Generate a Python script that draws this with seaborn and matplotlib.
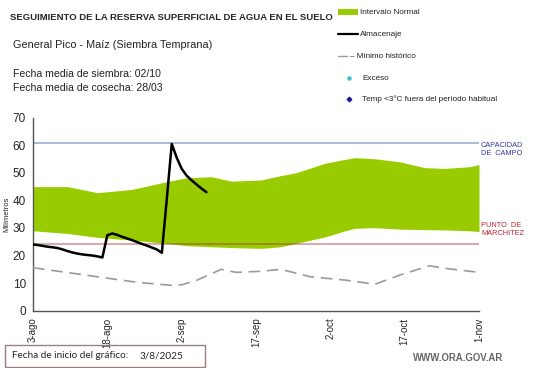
import numpy as np
import matplotlib
matplotlib.use("Agg")
import matplotlib.pyplot as plt
import seaborn as sns
from matplotlib.lines import Line2D
from matplotlib.patches import Rectangle

# Days counted from the chart start (3-ago-2025)
band_days = [0, 7, 13, 20, 27, 31, 36, 40, 46, 50, 53, 59, 63, 65, 69, 74, 79, 83, 88, 90]
band_upper = [45, 45, 42.8, 44, 46.8, 48.2, 48.6, 47, 47.4, 49, 50, 53.5, 54.9, 55.5,
              55.1, 54, 51.9, 51.6, 52.2, 53]
band_lower = [29, 28, 26.6, 25.6, 24.4, 23.6, 23.2, 22.9, 22.6, 23.2, 24.4, 26.8, 29.0,
              29.9, 30.1, 29.6, 29.4, 29.3, 29.0, 28.7]

# Almacenaje, one value per day
storage = [24.0, 23.8, 23.5, 23.2, 23.0, 22.7, 22.2, 21.6, 21.1, 20.7, 20.4, 20.2, 20.0,
           19.7, 19.3, 27.4, 28.0, 27.5, 26.8, 26.2, 25.6, 24.9, 24.2, 23.6, 22.9, 22.2,
           21.0, 40.5, 60.5, 55.5, 51.5, 49.0, 47.3, 45.8, 44.3, 43.0]
storage_days = list(range(len(storage)))

min_days = [0, 13, 21, 28, 30, 33, 38, 41, 46, 50, 56, 63, 69, 74, 80, 83, 90]
min_hist = [15.6, 12.3, 10.3, 9.2, 9.4, 11, 15, 13.9, 14.3, 15, 12.3, 11.1, 9.6, 12.9,
            16.3, 15.4, 13.9]

capacidad = 61
marchitez = 24.3

tick_days = [0, 15, 30, 45, 60, 75, 90]
tick_labels = ["3-ago", "18-ago", "2-sep", "17-sep", "2-oct", "17-oct", "1-nov"]

sns.set_style("white")
plt.rcParams['font.family'] = ['Liberation Sans', 'DejaVu Sans']

W, H = 541, 368
fig = plt.figure(figsize=(W / 100, H / 100), dpi=100)
ax = fig.add_axes([33 / W, 1 - 310.7 / H, (479 - 33) / W, (310.7 - 117.7) / H])

green = "#99cc00"
ax.fill_between(band_days, band_lower, band_upper, color=green, lw=0, zorder=1)
ax.axhline(capacidad, color="#8fa8d0", lw=1.1, zorder=2)
ax.axhline(marchitez, color="#a0302d", alpha=0.45, lw=1.3, zorder=3)
sns.lineplot(x=min_days, y=min_hist, ax=ax, color="#9a9a9a", lw=1.2,
             dashes=False, zorder=4).lines[-1].set_dashes((7, 4))
sns.lineplot(x=storage_days, y=storage, ax=ax, color="black", lw=1.8, zorder=5)

ax.set_xlim(0, 90)
ax.set_ylim(0, 70)
ax.set_yticks(range(0, 71, 10))
ax.set_xticks(tick_days)
ax.set_xticklabels(tick_labels, rotation=90, fontsize=7)
ax.tick_params(axis="y", labelsize=8.5, length=3, color="#555555", pad=2)
ax.tick_params(axis="x", length=3, color="#555555", pad=2)
ax.set_ylabel("Milímetros", fontsize=5.5, labelpad=2)
for s in ["top", "right"]:
    ax.spines[s].set_visible(False)
for s in ["left", "bottom"]:
    ax.spines[s].set_color("#555555")
    ax.spines[s].set_linewidth(1.0)

# right-side labels
fig.text(481 / W, 1 - 150 / H, "CAPACIDAD\nDE  CAMPO", color="#2e3c9c", fontsize=5.3,
         va="center", ha="left", linespacing=1.2)
fig.text(481 / W, 1 - 229 / H, "PUNTO  DE\nMARCHITEZ", color="#c0242c", fontsize=5.3,
         va="center", ha="left", linespacing=1.2)

# header texts
fig.text(10 / W, 1 - 17 / H, "SEGUIMIENTO DE LA RESERVA SUPERFICIAL DE AGUA EN EL SUELO",
         fontsize=6.8, fontweight="bold", va="center", ha="left")
fig.text(13 / W, 1 - 45 / H, "General Pico - Maíz (Siembra Temprana)", fontsize=7.8,
         va="center", ha="left", color="#222222")
fig.text(13 / W, 1 - 74 / H, "Fecha media de siembra: 02/10", fontsize=7.6,
         va="center", ha="left", color="#222222")
fig.text(13 / W, 1 - 88 / H, "Fecha media de cosecha: 28/03", fontsize=7.6,
         va="center", ha="left", color="#222222")

# legend drawn by hand
lx0, lx1, tx = 338, 358, 360
fig.add_artist(Rectangle((lx0 / W, 1 - 14.5 / H), (lx1 - lx0) / W, 5 / H,
                         transform=fig.transFigure, color=green, lw=0))
fig.add_artist(Line2D([lx0 / W, lx1 / W], [1 - 34 / H] * 2, color="black", lw=1.6,
                      transform=fig.transFigure))
fig.add_artist(Line2D([lx0 / W, 347 / W], [1 - 56 / H] * 2, color="#9a9a9a", lw=1.0,
                      transform=fig.transFigure))
fig.add_artist(Line2D([349 / W], [1 - 78 / H], marker="o", ms=2.2, color="#33c5d5",
                      transform=fig.transFigure))
fig.add_artist(Line2D([349 / W], [1 - 99 / H], marker="D", ms=2.3, color="#1a1a99",
                      transform=fig.transFigure))
leg_txt = [(12, "Intervalo Normal", tx), (34, "Almacenaje", tx),
           (56, "– Mínimo histórico", 350), (78, "Exceso", 362),
           (99, "Temp <3°C fuera del período habitual", 362)]
for y, t, x in leg_txt:
    fig.text(x / W, 1 - y / H, t, fontsize=5.9, va="center", ha="left", color="#222222")

# bottom box and site
fig.add_artist(Rectangle((5 / W, 1 - 367 / H), 200 / W, 22 / H, transform=fig.transFigure,
                         fill=False, edgecolor="#9a7f7f", lw=1.0))
fig.text(12 / W, 1 - 356 / H, "Fecha de inicio del gráfico:", fontsize=7.2, va="center",
         ha="left", family="Lato")
fig.text(140 / W, 1 - 356 / H, "3/8/2025", fontsize=7.2, va="center", ha="left", family="Lato")
fig.text(503 / W, 1 - 358 / H, "WWW.ORA.GOV.AR", fontsize=6.9, va="center", ha="right",
         color="#666666", fontweight="bold")

fig.savefig("out.png", dpi=100)
